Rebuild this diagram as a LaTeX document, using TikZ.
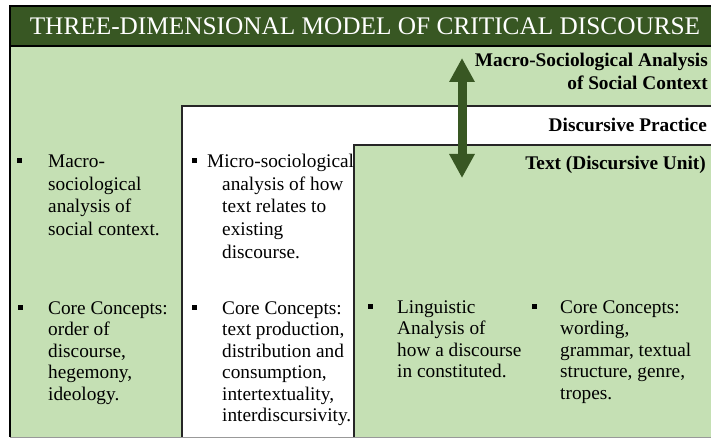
\documentclass[tikz,border=0pt]{standalone}
\usepackage{fontspec}
\setmainfont{Liberation Serif}
\usetikzlibrary{arrows.meta}
\definecolor{darkgreen}{RGB}{56,87,35}
\definecolor{lightgreen}{RGB}{197,224,180}

\begin{document}
\begin{tikzpicture}[x=1pt, y=-1pt]
    \tikzset{item/.style={anchor=base west, align=left, inner sep=0pt, font=\fontsize{19.3}{21.5}\selectfont}}
    \tikzset{upper item/.style={item, font=\fontsize{19.3}{22.5}\selectfont}}
    \tikzset{heading/.style={anchor=base east, align=right, inner sep=0pt, font=\fontsize{19.3}{22.5}\selectfont\bfseries}}
    \tikzset{bullet/.style={fill=black, minimum size=5pt, inner sep=0pt}}
    \tikzset{frame/.style={draw=black!85, line width=1.5pt}}
    \useasboundingbox (0,0) rectangle (711,438);
    \clip (0,0) rectangle (711,438);

    % Boxes
    \fill[darkgreen] (10,6) rectangle (715,46);
    \fill[lightgreen] (10,46) rectangle (715,437);
    \fill[white] (182,106) rectangle (715,437);
    \fill[lightgreen] (354,145) rectangle (715,437);
    \draw[black, line width=2pt] (715,6) -- (10,6) -- (10,437);
    \draw[black, line width=2pt] (10,46) -- (715,46);
    \draw[frame] (182,437) -- (182,106) -- (715,106);
    \draw[frame] (354,437) -- (354,145) -- (715,145);
    \draw[black!40, line width=1pt] (10,437) -- (715,437);

    % Title
    \node[text=white, font=\fontsize{25.3}{30}\selectfont] (title) at (365,26) {THREE-DIMENSIONAL MODEL OF CRITICAL DISCOURSE};

    % Headings (anchored at the last line)
    \node[heading] (macrohead) at (708,89.5) {Macro-Sociological Analysis\\of Social Context};
    \node[heading] (practicehead) at (707,132) {Discursive Practice};
    \node[heading] (texthead) at (706,170) {Text (Discursive Unit)};

    % Items (anchored at the last line)
    \node[bullet] (b1) at (19.5,161) {};
    \node[upper item] (macro) at (48,235.5) {Macro-\\sociological\\analysis of\\social context.};
    \node[bullet] (b2) at (20.5,307) {};
    \node[item] (macroconcepts) at (48,400) {Core Concepts:\\order of\\discourse,\\hegemony,\\ideology.};

    \node[bullet] (b3) at (194,161) {};
    \node[upper item] (micro) at (207,258) {Micro-sociological\\\hspace*{15pt}analysis of how\\\hspace*{15pt}text relates to\\\hspace*{15pt}existing\\\hspace*{15pt}discourse.};
    \node[bullet] (b4) at (194.5,307) {};
    \node[item] (microconcepts) at (222,421.5) {Core Concepts:\\text production,\\distribution and\\consumption,\\intertextuality,\\interdiscursivity.};

    \node[bullet] (b5) at (370.5,306) {};
    \node[item] (linguistic) at (397,377.5) {Linguistic\\Analysis of\\how a discourse\\in constituted.};
    \node[bullet] (b6) at (534,306) {};
    \node[item] (textconcepts) at (560,399) {Core Concepts:\\wording,\\grammar, textual\\structure, genre,\\tropes.};

    % Arrow
    \coordinate (arrowtop) at (462,58);
    \coordinate (arrowbot) at (462,178);
    \draw[darkgreen, line width=9pt, {Triangle[length=24pt,width=24pt]}-{Triangle[length=24pt,width=24pt]}] (arrowtop) -- (arrowbot);

\end{tikzpicture}
\end{document}
